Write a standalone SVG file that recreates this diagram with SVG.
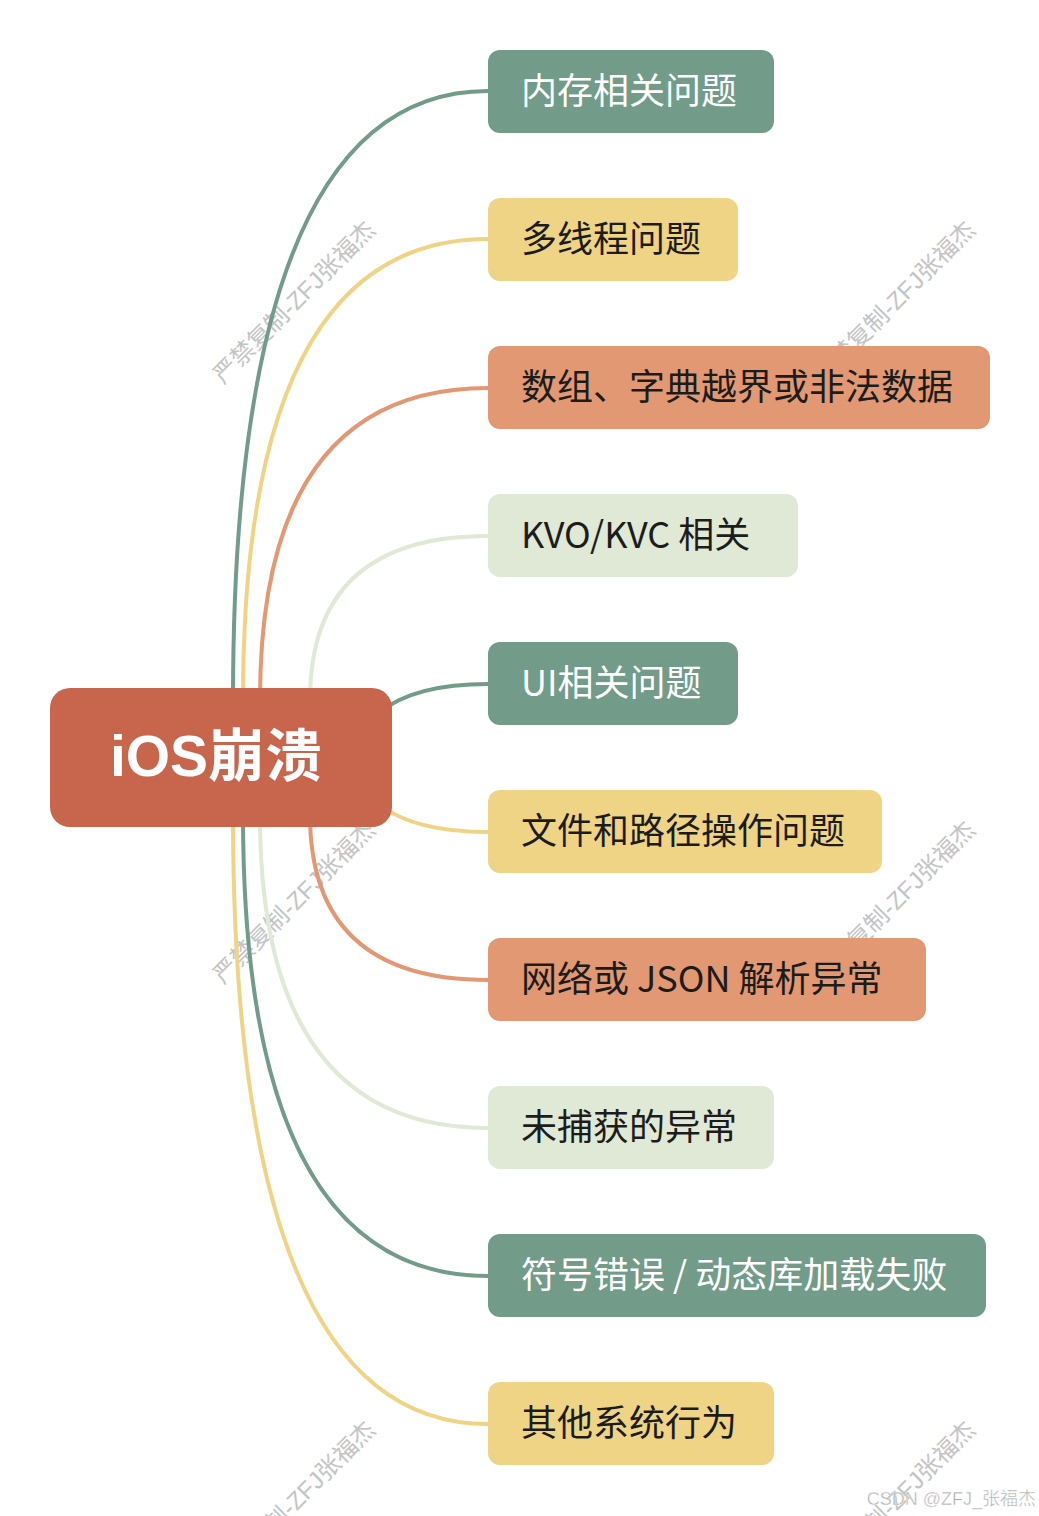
<svg xmlns="http://www.w3.org/2000/svg" width="1039" height="1516" viewBox="0 0 1039 1516">
<style>
.wm{font-family:"Liberation Sans","Noto Sans CJK SC",sans-serif;font-size:24px;fill:#c4c4c4;text-anchor:middle}
.lbl{font-family:"Noto Sans CJK SC","Liberation Sans",sans-serif;font-size:36px;fill:#1c1c1c}
.lw{fill:#ffffff}
.g{fill:#729B89}.y{fill:#EFD486}.o{fill:#E29872}.l{fill:#E0E8D6}
.c{fill:none;stroke-width:4;stroke-linecap:round}
.cg{stroke:#729B89}.cy{stroke:#EFD486}.co{stroke:#E29872}.cl{stroke:#E0E8D6}
</style>
<rect width="1039" height="1516" fill="#ffffff"/>
<g id="watermarks">
<text class="wm" transform="translate(300,308) rotate(-45)">严禁复制-ZFJ张福杰</text>
<text class="wm" transform="translate(900,308) rotate(-45)">严禁复制-ZFJ张福杰</text>
<text class="wm" transform="translate(300,908) rotate(-45)">严禁复制-ZFJ张福杰</text>
<text class="wm" transform="translate(900,908) rotate(-45)">严禁复制-ZFJ张福杰</text>
<text class="wm" transform="translate(300,1508) rotate(-45)">严禁复制-ZFJ张福杰</text>
<text class="wm" transform="translate(900,1508) rotate(-45)">严禁复制-ZFJ张福杰</text>
</g>
<g id="connectors">
<path class="c cg" d="M233 700 Q233 91 488 91"/>
<path class="c cy" d="M243 700 Q243 239 488 239"/>
<path class="c co" d="M260 700 Q260 388 488 388"/>
<path class="c cl" d="M310 700 Q310 536 488 536"/>
<path class="c cg" d="M380 712 Q415 684 488 684"/>
<path class="c cy" d="M380 805 Q415 832 488 832"/>
<path class="c co" d="M310 815 Q310 980 488 980"/>
<path class="c cl" d="M260 815 Q260 1128 488 1128"/>
<path class="c cg" d="M243 815 Q243 1276 488 1276"/>
<path class="c cy" d="M233 815 Q233 1424 488 1424"/>
</g>
<g id="root">
<rect x="50" y="688" width="342" height="139" rx="20" fill="#C8654D"/>
<text x="216" y="776" text-anchor="middle" font-family="Liberation Sans,Noto Sans CJK SC,sans-serif" font-size="57" font-weight="bold" fill="#ffffff">iOS崩溃</text>
</g>
<g id="n1"><rect class="g" x="488" y="50" width="286" height="83" rx="12"/><text class="lbl lw" x="521" y="104">内存相关问题</text></g>
<g id="n2"><rect class="y" x="488" y="198" width="250" height="83" rx="12"/><text class="lbl" x="521" y="252">多线程问题</text></g>
<g id="n3"><rect class="o" x="488" y="346" width="502" height="83" rx="12"/><text class="lbl" x="521" y="400">数组、字典越界或非法数据</text></g>
<g id="n4"><rect class="l" x="488" y="494" width="310" height="83" rx="12"/><text class="lbl" x="521" y="548">KVO/KVC 相关</text></g>
<g id="n5"><rect class="g" x="488" y="642" width="250" height="83" rx="12"/><text class="lbl lw" x="521" y="696">UI相关问题</text></g>
<g id="n6"><rect class="y" x="488" y="790" width="394" height="83" rx="12"/><text class="lbl" x="521" y="844">文件和路径操作问题</text></g>
<g id="n7"><rect class="o" x="488" y="938" width="438" height="83" rx="12"/><text class="lbl" x="521" y="992">网络或 JSON 解析异常</text></g>
<g id="n8"><rect class="l" x="488" y="1086" width="286" height="83" rx="12"/><text class="lbl" x="521" y="1140">未捕获的异常</text></g>
<g id="n9"><rect class="g" x="488" y="1234" width="498" height="83" rx="12"/><text class="lbl lw" x="521" y="1288">符号错误 / 动态库加载失败</text></g>
<g id="n10"><rect class="y" x="488" y="1382" width="286" height="83" rx="12"/><text class="lbl" x="521" y="1436">其他系统行为</text></g>
<text x="1036" y="1505" text-anchor="end" font-family="Liberation Sans,Noto Sans CJK SC,sans-serif" font-size="18" fill="#b0b0b0" stroke="#ffffff" stroke-width="0.4">CSDN @ZFJ_张福杰</text>
</svg>
